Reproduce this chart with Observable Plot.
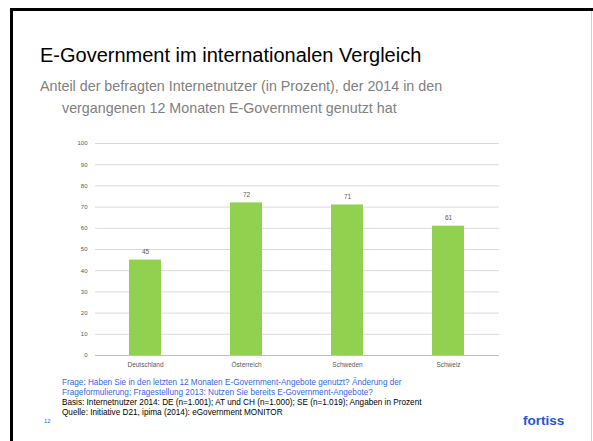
<!DOCTYPE html>
<html><head><meta charset="utf-8">
<script src="https://cdn.jsdelivr.net/npm/d3@7"></script>
<script src="https://cdn.jsdelivr.net/npm/@observablehq/plot@0.6"></script>
<style>
html,body{margin:0;padding:0;background:#fff;}
#slide{position:relative;width:593px;height:441px;overflow:hidden;background:#fff;font-family:"Liberation Sans",Arial,sans-serif;}
.abs{position:absolute;white-space:nowrap;}
#title{left:40px;top:44px;font-size:20px;color:#000;}
.sub{font-size:14.3px;color:#808080;}
.foot{font-family:"Liberation Sans Narrow","Liberation Sans",sans-serif;font-size:8.2px;line-height:10.5px;}
#chart{position:absolute;left:0;top:130px;}
</style></head>
<body><div id="slide">
<div class="abs" style="left:10px;top:8px;width:3px;height:433px;background:#000"></div>
<div class="abs" style="left:10px;top:8px;width:583px;height:3px;background:#000"></div>
<div class="abs" style="left:591px;top:11px;width:1px;height:430px;background:#d0d0d0"></div>
<div id="title" class="abs">E-Government im internationalen Vergleich</div>
<div class="abs sub" style="left:40px;top:78px">Anteil der befragten Internetnutzer (in Prozent), der 2014 in den</div>
<div class="abs sub" style="left:62px;top:100px">vergangenen 12 Monaten E-Government genutzt hat</div>
<div id="chart"></div>
<div class="abs foot" style="left:62px;top:377.5px;color:#3366ee">Frage: Haben Sie in den letzten 12 Monaten E-Government-Angebote genutzt? Änderung der</div>
<div class="abs foot" style="left:62px;top:388px;color:#3366ee">Frageformulierung; Fragestellung 2013: Nutzen Sie bereits E-Government-Angebote?</div>
<div class="abs foot" style="left:62px;top:398px;color:#000">Basis: Internetnutzer 2014: DE (n=1.001); AT und CH (n=1.000); SE (n=1.019); Angaben in Prozent</div>
<div class="abs foot" style="left:62px;top:408px;color:#000">Quelle: Initiative D21, ipima (2014): eGovernment MONITOR</div>
<div class="abs" style="left:44px;top:418px;font-size:6px;color:#3366ee">12</div>
<div class="abs" style="left:523px;top:413px;font-size:13.5px;font-weight:bold;color:#2255dd;font-family:'Liberation Sans Narrow','Liberation Sans',sans-serif">fortiss</div>
</div>
<script>
const categories = ["Deutschland", "Österreich", "Schweden", "Schweiz"];
const values = [45, 72, 71, 61];
const yTicks = [0, 10, 20, 30, 40, 50, 60, 70, 80, 90, 100];

const data = categories.map((c, i) => ({country: c, value: values[i]}));

const chart = Plot.plot({
  width: 593,
  height: 245,
  marginTop: 13,
  marginBottom: 20,
  marginLeft: 95,
  marginRight: 94,
  style: {fontFamily: "'Liberation Sans', Arial, sans-serif", background: "transparent"},
  x: {domain: categories, paddingInner: 0.68, paddingOuter: 0.34, label: null},
  y: {domain: [0, 100], ticks: yTicks, label: null},
  marks: [
    Plot.gridY(yTicks.filter(d => d > 0), {stroke: "#d9d9d9", strokeOpacity: 1, strokeWidth: 1}),
    Plot.barY(data, {x: "country", y: "value", fill: "#92d050"}),
    Plot.ruleY([0], {stroke: "#bfbfbf", strokeWidth: 1}),
    Plot.text(data, {x: "country", y: "value", text: d => String(d.value), dy: -8, fontSize: 6.5, fill: "#595959"}),
    Plot.axisY({ticks: yTicks, tickSize: 0, tickPadding: 8, fontSize: 6, color: "#595959", label: null}),
    Plot.axisX({tickSize: 0, tickPadding: 7, fontSize: 6.5, color: "#595959", label: null})
  ]
});
document.getElementById("chart").appendChild(chart);
</script>
</body></html>
